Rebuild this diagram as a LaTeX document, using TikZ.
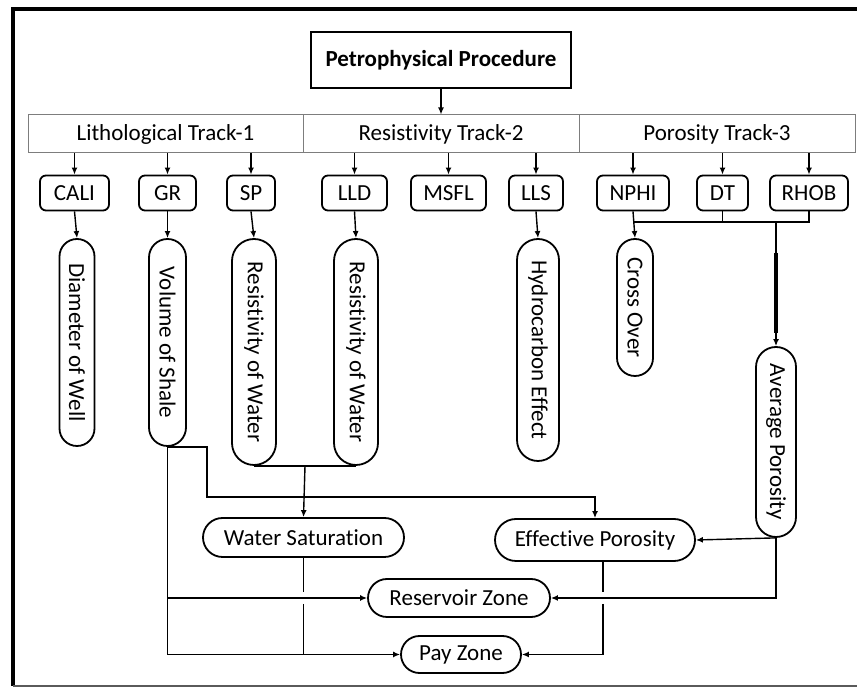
\documentclass[tikz,border=0pt]{standalone}
\usepackage{fontspec}
\setmainfont{Carlito}[Ligatures=NoCommon]
\usepackage{tikz}
\usetikzlibrary{arrows.meta, positioning, shapes.misc, calc}
\definecolor{trackgray}{RGB}{125,125,125}
\definecolor{framegray}{RGB}{90,90,90}

\tikzset{
    arr/.style={-{Latex[length=3.5pt,width=3pt]}, line width=0.7pt},
    titlebox/.style={draw, line width=1pt, minimum width=130pt, minimum height=28pt, inner sep=0pt, font=\fontsize{11.5}{13}\selectfont\bfseries},
    trackcell/.style={draw=trackgray, line width=0.5pt, minimum width=138pt, minimum height=19pt, inner sep=0pt},
    logbox/.style={draw, line width=0.9pt, rounded corners=3pt, minimum height=17.5pt, inner sep=0pt},
    vpill/.style={draw, line width=0.9pt, rounded rectangle, rotate=-90, inner sep=1pt},
    hpill/.style={draw, line width=0.9pt, rounded rectangle, inner sep=1pt}
}

\begin{document}
\begin{tikzpicture}[x=0.5pt, y=-0.5pt, font=\fontsize{11.5}{13}\selectfont]
    \useasboundingbox (0,0) rectangle (857,688);
    \draw[line width=2pt] (857,9.5) -- (13,9.5) -- (13,686);
    \draw[framegray, line width=0.6pt] (13,686) -- (857,686);

    \node[titlebox] (title) at (441,60) {Petrophysical Procedure};

    \node[trackcell, minimum width=137.5pt] (lith) at (165.5,134) {Lithological Track-1};
    \node[trackcell] (res) at (441,134) {Resistivity Track-2};
    \node[trackcell] (por) at (717,134) {Porosity Track-3};
    \draw[arr, line width=1pt] (title.south) -- (res.north);

    \node[logbox, minimum width=34.5pt] (cali) at (74.5,193) {CALI};
    \node[logbox, minimum width=28.5pt] (gr) at (167.5,193) {GR};
    \node[logbox, minimum width=24pt] (sp) at (251,193) {SP};
    \node[logbox, minimum width=32.5pt] (lld) at (354.5,193) {LLD};
    \node[logbox, minimum width=37.5pt] (msfl) at (448.5,193) {MSFL};
    \node[logbox, minimum width=27pt] (lls) at (536,193) {LLS};
    \node[logbox, minimum width=36pt] (nphi) at (633,193) {NPHI};
    \node[logbox, minimum width=25.5pt] (dt) at (722.5,193) {DT};
    \node[logbox, minimum width=39pt] (rhob) at (809,193) {RHOB};

    \draw[arr] (lith.south -| cali.north) -- (cali.north);
    \draw[arr] (lith.south -| gr.north) -- (gr.north);
    \draw[arr] (lith.south -| sp.north) -- (sp.north);
    \draw[arr] (res.south -| lld.north) -- (lld.north);
    \draw[arr] (res.south -| msfl.north) -- (msfl.north);
    \draw[arr] (res.south -| lls.north) -- (lls.north);
    \draw[arr] (por.south -| nphi.north) -- (nphi.north);
    \draw[arr] (por.south -| dt.north) -- (dt.north);
    \draw[arr] (por.south -| rhob.north) -- (rhob.north);

    \node[vpill, minimum width=105.5pt, minimum height=17.5pt] (dw) at (77,342.5) {Diameter of Well};
    \node[vpill, minimum width=105.5pt, minimum height=18.5pt] (vs) at (167.5,342.5) {Volume of Shale};
    \node[vpill, minimum width=115pt, minimum height=22pt] (rw1) at (254,352) {Resistivity of Water};
    \node[vpill, minimum width=115pt, minimum height=22pt] (rw2) at (356,352) {Resistivity of Water};
    \node[vpill, minimum width=113pt, minimum height=21pt] (hc) at (538,350) {Hydrocarbon Effect};
    \node[vpill, minimum width=70.5pt, minimum height=18pt] (co) at (635,307.5) {Cross Over};
    \node[vpill, minimum width=97pt, minimum height=20pt] (avp) at (776,442) {Average Porosity};

    \draw[arr] (cali.south) -- (dw.west);
    \draw[arr] (gr.south) -- (vs.west);
    \draw[arr] (sp.south) -- (rw1.west);
    \draw[arr] (lld.south) -- (rw2.west);
    \draw[arr] (lls.south) -- (hc.west);

    \coordinate (pj) at (722,222);
    \draw[line width=0.7pt] (rhob.south) |- (nphi.south |- pj);
    \draw[line width=0.7pt] (dt.south) -- (dt.south |- pj);
    \draw[arr] (nphi.south) -- (co.west);
    \draw[arr] (avp.west |- pj) -- (avp.west);
    \draw[line width=2.2pt] ($(avp.west |- pj)+(0,31)$) -- ($(avp.west)+(0,-13)$);

    \node[hpill, minimum width=102.5pt, minimum height=19.5pt] (ws) at (303.5,537.5) {Water Saturation};
    \node[hpill, minimum width=102pt, minimum height=21pt] (ep) at (595,540) {Effective Porosity};
    \node[hpill, minimum width=93pt, minimum height=19pt] (rz) at (459,598) {Reservoir Zone};
    \node[hpill, minimum width=62pt, minimum height=18.5pt] (pz) at (461,654.5) {Pay Zone};

    \coordinate (sh) at (207,497);
    \draw[arr] (vs.east) -| (sh) -| (ep.north);
    \draw[arr] (vs.east) |- (rz.west);
    \draw[arr] (vs.east) |- (pz.west);

    \draw[line width=0.7pt] (rw1.east) -- (rw2.east);
    \draw[arr] ($(rw1.east)!0.5!(rw2.east)$) -- (ws.north);

    \draw[line width=0.7pt] (ws.south) -- ($(ws.south |- rz.west)+(0,-6)$);
    \draw[line width=0.7pt] ($(ws.south |- rz.west)+(0,6)$) -- (ws.south |- pz.west);

    \draw[line width=0.7pt] ([xshift=4pt]ep.south) -- ($([xshift=4pt]ep.south |- rz.east)+(0,-6)$);
    \draw[arr] ($([xshift=4pt]ep.south |- rz.east)+(0,6)$) |- (pz.east);

    \draw[arr] (avp.east) -- (ep.east);
    \draw[arr] (avp.east) |- (rz.east);
\end{tikzpicture}
\end{document}
